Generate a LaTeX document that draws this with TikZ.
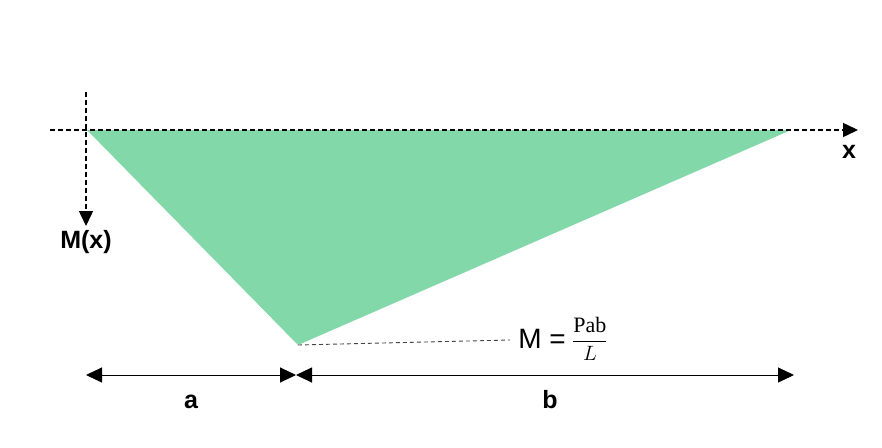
\documentclass[tikz,border=0pt]{standalone}
\usepackage{amsmath}
\usepackage{fontspec}
\setmainfont{Liberation Sans}
\newfontfamily\fracserif{Liberation Serif}
\usetikzlibrary{arrows.meta}
\definecolor{fillgreen}{HTML}{82D8A8}
\definecolor{leadgray}{HTML}{444444}
\tikzset{
  axisline/.style={line width=1.5pt, dash pattern=on 5pt off 3pt, -{Triangle[length=15pt,width=14pt]}},
  dimline/.style={line width=1pt, {Triangle[length=16pt,width=15pt]}-{Triangle[length=16pt,width=15pt]}},
  boldlabel/.style={font=\fontsize{25}{28}\selectfont\bfseries, inner sep=0pt},
  dimlabel/.style={font=\fontsize{25}{28}\selectfont\bfseries, inner sep=0pt},
}
\begin{document}
\begin{tikzpicture}[x=1pt,y=-1pt]
\useasboundingbox (0,0) rectangle (882,447);
% triangle
\coordinate (tl) at (87,130);
\coordinate (tr) at (791,130);
\coordinate (bot) at (298,345);
\fill[fillgreen] (tl) -- (tr) -- (bot) -- cycle;
% axes
\coordinate (xs) at (50,130);
\coordinate (xe) at (858,130);
\coordinate (ys) at (86,92);
\coordinate (ye) at (86,226);
\draw[axisline] (xs) -- (xe);
\draw[axisline] (ys) -- (ye);
\node[boldlabel] (xl) at (849,152) {x};
\node[boldlabel] (ml) at (86,242) {M(x)};
% moment label
\node[inner sep=0pt, anchor=east, font=\fontsize{28}{30}\selectfont] (meq) at (566,339) {M =};
\node[inner sep=0pt, anchor=west, font=\fontsize{22}{24}\selectfont] (frac) at (572,339) {$\dfrac{\text{\fracserif Pab}}{L}$};
\coordinate (leadend) at (510,340);
\draw[leadgray, line width=0.9pt, dash pattern=on 4pt off 3pt] (bot) -- (leadend);
% dimensions
\coordinate (d0) at (86,375);
\coordinate (d1) at (296,375);
\coordinate (d2) at (794,375);
\draw[dimline] (d0) -- (d1);
\draw[dimline] (d1) -- (d2);
\node[dimlabel] (al) at (191,402) {a};
\node[dimlabel] (bl) at (550,400) {b};
\end{tikzpicture}
\end{document}
